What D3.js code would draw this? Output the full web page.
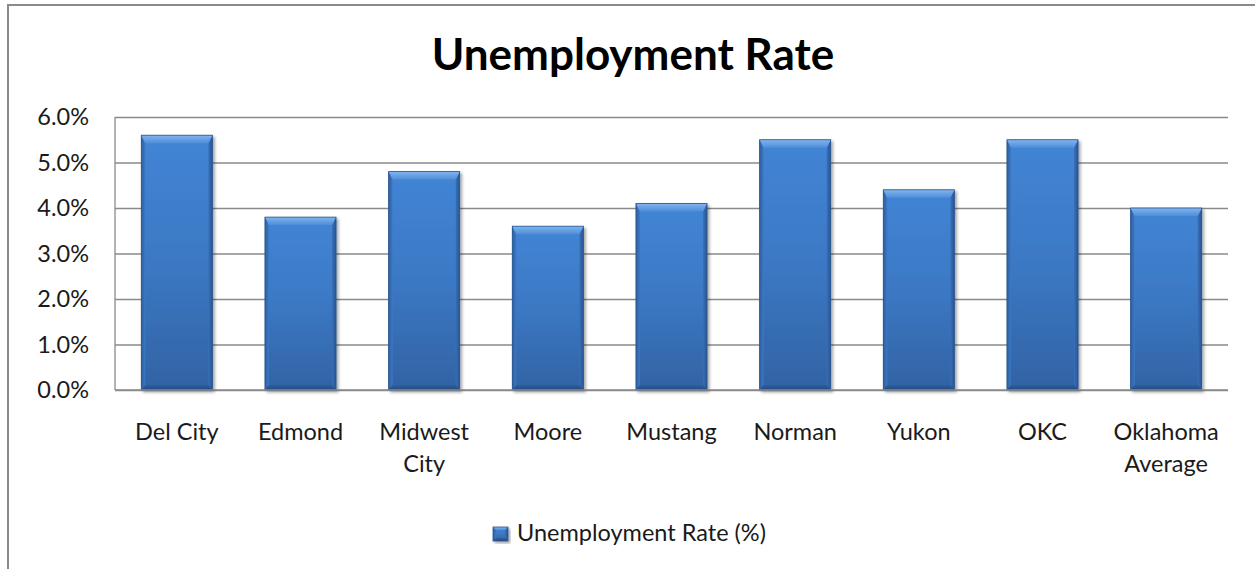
<!DOCTYPE html>
<html>
<head>
<meta charset="utf-8">
<script src="https://cdn.jsdelivr.net/npm/d3@7"></script>
<style>
  html, body { margin: 0; padding: 0; background: #fff; }
  svg { display: block; }
  text { font-family: Lato, "Liberation Sans", sans-serif; fill: #1a1a1a; }
</style>
</head>
<body>
<svg id="chart" width="1255" height="569"></svg>
<script>
// Unemployment rate by city (percent)
const categories = ["Del City", "Edmond", "Midwest City", "Moore", "Mustang",
                    "Norman", "Yukon", "OKC", "Oklahoma Average"];
const rates = [5.6, 3.8, 4.8, 3.6, 4.1, 5.5, 4.4, 5.5, 4.0];
const yTicks = [0, 1, 2, 3, 4, 5, 6];
const titleText = "Unemployment Rate";
const seriesName = "Unemployment Rate (%)";

const W = 1255, H = 569;
const plot = { left: 115, right: 1228, top: 117, bottom: 390 };
const grey = "#8a8a8a";
const fontSize = 23.5;

const svg = d3.select("#chart");
svg.append("rect").attr("width", W).attr("height", H).attr("fill", "#fff");

// bar gradients & shadow
const defs = svg.append("defs");
function linGrad(id, x2, y2, stops) {
  const g = defs.append("linearGradient").attr("id", id)
    .attr("x1", 0).attr("y1", 0).attr("x2", x2).attr("y2", y2);
  stops.forEach(([o, c]) => g.append("stop").attr("offset", o).attr("stop-color", c));
}
linGrad("body", 0, 1, [[0, "#4285d5"], [0.5, "#3b78c4"], [1, "#3263a4"]]);
linGrad("topBevel", 0, 1, [[0, "#80b6ef"], [1, "#4f8dd9"]]);
linGrad("leftBevel", 1, 0, [[0, "#2f5f9f"], [1, "#3b79c6"]]);
linGrad("rightBevel", 1, 0, [[0, "#3870b9"], [1, "#2a5590"]]);
linGrad("bottomBevel", 0, 1, [[0, "#2f5e9c"], [1, "#244a80"]]);
const f = defs.append("filter").attr("id", "shadow")
  .attr("x", "-20%").attr("y", "-20%").attr("width", "140%").attr("height", "140%");
f.append("feDropShadow").attr("dx", 2).attr("dy", 2).attr("stdDeviation", 1.8)
  .attr("flood-color", "#000").attr("flood-opacity", 0.35);

// outer chart frame (runs past the right and bottom edges)
svg.append("rect")
  .attr("x", 8).attr("y", 5).attr("width", 1262).attr("height", 580)
  .attr("fill", "none").attr("stroke", grey).attr("stroke-width", 2);

// title
svg.append("text")
  .attr("x", 633).attr("y", 70)
  .attr("text-anchor", "middle")
  .style("font-weight", "bold").style("font-size", "44px")
  .style("fill", "#000")
  .text(titleText);

// scales
const x = d3.scaleBand()
  .domain(categories)
  .range([plot.left, plot.right])
  .paddingInner(0.425).paddingOuter(0.2125);
const y = d3.scaleLinear().domain([0, 6]).range([plot.bottom, plot.top]);

// gridlines
svg.append("g")
  .attr("transform", `translate(${plot.left},0)`)
  .call(d3.axisLeft(y).tickValues(yTicks)
        .tickSize(-(plot.right - plot.left)).tickFormat(""))
  .call(g => g.select(".domain").remove())
  .call(g => g.selectAll(".tick line").attr("stroke", grey).attr("stroke-width", 1.3));

// y tick labels
svg.append("g")
  .selectAll("text")
  .data(yTicks)
  .join("text")
  .attr("x", 89)
  .attr("y", d => y(d))
  .attr("dy", "0.36em")
  .attr("text-anchor", "end")
  .style("font-size", fontSize + "px")
  .text(d => d.toFixed(1) + "%");

// value axis line
svg.append("line")
  .attr("x1", plot.left).attr("x2", plot.left)
  .attr("y1", plot.top).attr("y2", plot.bottom)
  .attr("stroke", grey).attr("stroke-width", 1.3);

// bevelled bars
const bw = x.bandwidth();
const bevT = 8, bevS = 4, bevB = 5;
const bars = svg.append("g").selectAll("g")
  .data(categories.map((c, i) => ({ c, v: rates[i] })))
  .join("g")
  .attr("transform", d => `translate(${x(d.c)},${y(d.v)})`)
  .attr("filter", "url(#shadow)");

function drawBevel(sel, w, hFn, t, s, b) {
  sel.append("rect").attr("width", w).attr("height", hFn)
    .attr("fill", "url(#body)");
  sel.append("path").attr("fill", "url(#leftBevel)")
    .attr("d", d => { const h = hFn(d); return `M0,0L${s},${t}L${s},${h - b}L0,${h}Z`; });
  sel.append("path").attr("fill", "url(#rightBevel)")
    .attr("d", d => { const h = hFn(d); return `M${w},0L${w - s},${t}L${w - s},${h - b}L${w},${h}Z`; });
  sel.append("path").attr("fill", "url(#bottomBevel)")
    .attr("d", d => { const h = hFn(d); return `M0,${h}L${s},${h - b}L${w - s},${h - b}L${w},${h}Z`; });
  sel.append("path").attr("fill", "url(#topBevel)")
    .attr("d", `M0,0L${w},0L${w - s},${t}L${s},${t}Z`);
  sel.append("rect").attr("width", w).attr("height", hFn)
    .attr("fill", "none").attr("stroke", "#2a5590").attr("stroke-width", 0.8);
}
drawBevel(bars, bw, d => y(0) - y(d.v), bevT, bevS, bevB);

// category axis line
svg.append("line")
  .attr("x1", plot.left).attr("x2", plot.right)
  .attr("y1", plot.bottom).attr("y2", plot.bottom)
  .attr("stroke", grey).attr("stroke-width", 1.3);

// category labels, wrapped to the band width
const labels = svg.append("g").selectAll("text")
  .data(categories)
  .join("text")
  .attr("text-anchor", "middle")
  .attr("x", d => x(d) + bw / 2)
  .attr("y", 440)
  .style("font-size", fontSize + "px");
labels.each(function (d) {
  const t = d3.select(this);
  const maxW = x.step() - 8;
  const words = d.split(" ");
  let lines = [], line = [];
  const probe = t.append("tspan");
  words.forEach(w => {
    const trial = line.concat(w).join(" ");
    probe.text(trial);
    if (line.length && probe.node().getComputedTextLength() > maxW) {
      lines.push(line.join(" "));
      line = [w];
    } else line.push(w);
  });
  lines.push(line.join(" "));
  probe.remove();
  lines.forEach((ln, i) => {
    t.append("tspan").attr("x", x(d) + bw / 2).attr("dy", i ? 32 : 0).text(ln);
  });
});

// legend
const leg = svg.append("g").attr("transform", "translate(493,527)")
  .datum({}).attr("filter", "url(#shadow)");
drawBevel(leg, 15, () => 14, 3, 3, 3);
svg.append("text")
  .attr("x", 517).attr("y", 541)
  .style("font-size", fontSize + "px")
  .text(seriesName);
</script>
</body>
</html>
